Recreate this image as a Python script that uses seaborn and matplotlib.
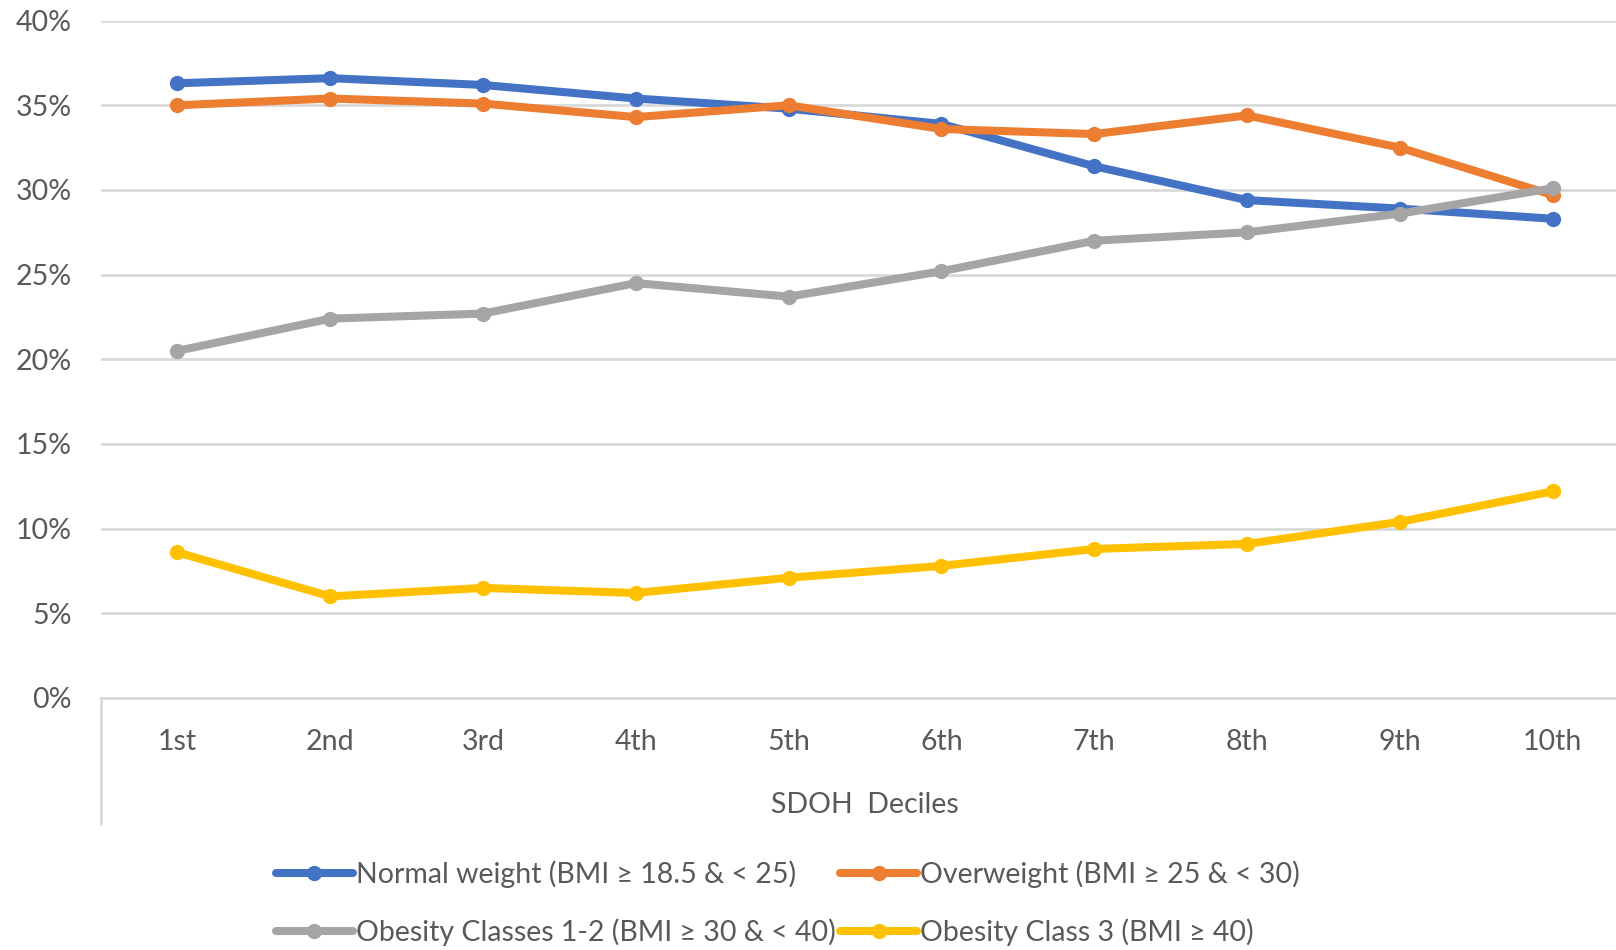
import matplotlib
matplotlib.use("Agg")
import matplotlib.pyplot as plt
from matplotlib.lines import Line2D
from matplotlib.ticker import MultipleLocator, PercentFormatter
import pandas as pd
import seaborn as sns

# SDOH deciles on the x axis
deciles = ["1st", "2nd", "3rd", "4th", "5th", "6th", "7th", "8th", "9th", "10th"]

# Share of patients (%) in each BMI group per decile
normal_weight = [36.3, 36.6, 36.2, 35.4, 34.8, 33.9, 31.4, 29.4, 28.9, 28.3]
overweight = [35.0, 35.4, 35.1, 34.3, 35.0, 33.6, 33.3, 34.4, 32.5, 29.7]
obesity_1_2 = [20.5, 22.4, 22.7, 24.5, 23.7, 25.2, 27.0, 27.5, 28.6, 30.1]
obesity_3 = [8.6, 6.0, 6.5, 6.2, 7.1, 7.8, 8.8, 9.1, 10.4, 12.2]

series_labels = [
    "Normal weight (BMI \u2265 18.5 & < 25)",
    "Overweight (BMI \u2265 25 & < 30)",
    "Obesity Classes 1-2 (BMI \u2265 30 & < 40)",
    "Obesity Class 3 (BMI \u2265 40)",
]
series_values = [normal_weight, overweight, obesity_1_2, obesity_3]
palette = ["#4472C4", "#ED7D31", "#A5A5A5", "#FFC000"]

x_title = "SDOH  Deciles"

# Long-form table for seaborn
records = []
for label, values in zip(series_labels, series_values):
    for d, v in zip(deciles, values):
        records.append({"Decile": d, "Share": v, "Group": label})
df = pd.DataFrame(records)

sns.set_theme(style="white")
plt.rcParams["font.family"] = ["Lato", "DejaVu Sans"]

text_color = "#595959"
grid_color = "#D9D9D9"
font_size = 20.5
line_w = 5.8
marker_sz = 11
W, H = 1616, 950

fig = plt.figure(figsize=(W / 100, H / 100), dpi=100)
ax = fig.add_axes([101 / W, 1 - 698 / H, 1528 / W, (698 - 20.6) / H])

sns.lineplot(
    data=df, x="Decile", y="Share", hue="Group", hue_order=series_labels,
    palette=palette, marker="o", markersize=marker_sz, markeredgewidth=0,
    linewidth=line_w, sort=False, legend=False, ax=ax, zorder=3,
)

ax.set_xlim(-0.5, len(deciles) - 0.5)
ax.set_ylim(0, 40)
ax.yaxis.set_major_locator(MultipleLocator(5))
ax.yaxis.set_major_formatter(PercentFormatter(xmax=100, decimals=0))
ax.yaxis.grid(True, color=grid_color, linewidth=2)
ax.xaxis.grid(False)
ax.set_axisbelow(True)

for side in ["top", "right", "left"]:
    ax.spines[side].set_visible(False)
ax.spines["bottom"].set_color(grid_color)
ax.spines["bottom"].set_linewidth(2)

# Category axis divider running below the plot area on the left
ax.add_line(Line2D([0, 0], [0, -(824 - 698) / (698 - 20.6)], transform=ax.transAxes,
                   color=grid_color, linewidth=2, clip_on=False))

ax.tick_params(axis="both", length=0, labelsize=font_size, colors=text_color)
ax.tick_params(axis="y", pad=21)
ax.tick_params(axis="x", pad=22)
ax.set_ylabel("")
ax.set_xlabel(x_title, fontsize=font_size, color=text_color, labelpad=27)

# Legend: two rows, two entries each
legend_handles = [
    Line2D([], [], color=c, linewidth=line_w, marker="o", markersize=marker_sz,
           markeredgewidth=0)
    for c in palette
]
order = [0, 2, 1, 3]
fig.legend(
    [legend_handles[i] for i in order], [series_labels[i] for i in order],
    ncol=2, loc="center", bbox_to_anchor=(788 / W, 1 - 903 / H),
    frameon=False, fontsize=font_size, labelcolor=text_color,
    handlelength=2.7, handletextpad=0.12, columnspacing=0.15, labelspacing=1.05,
    borderpad=0, borderaxespad=0,
)

fig.savefig("out.png", dpi=100)
